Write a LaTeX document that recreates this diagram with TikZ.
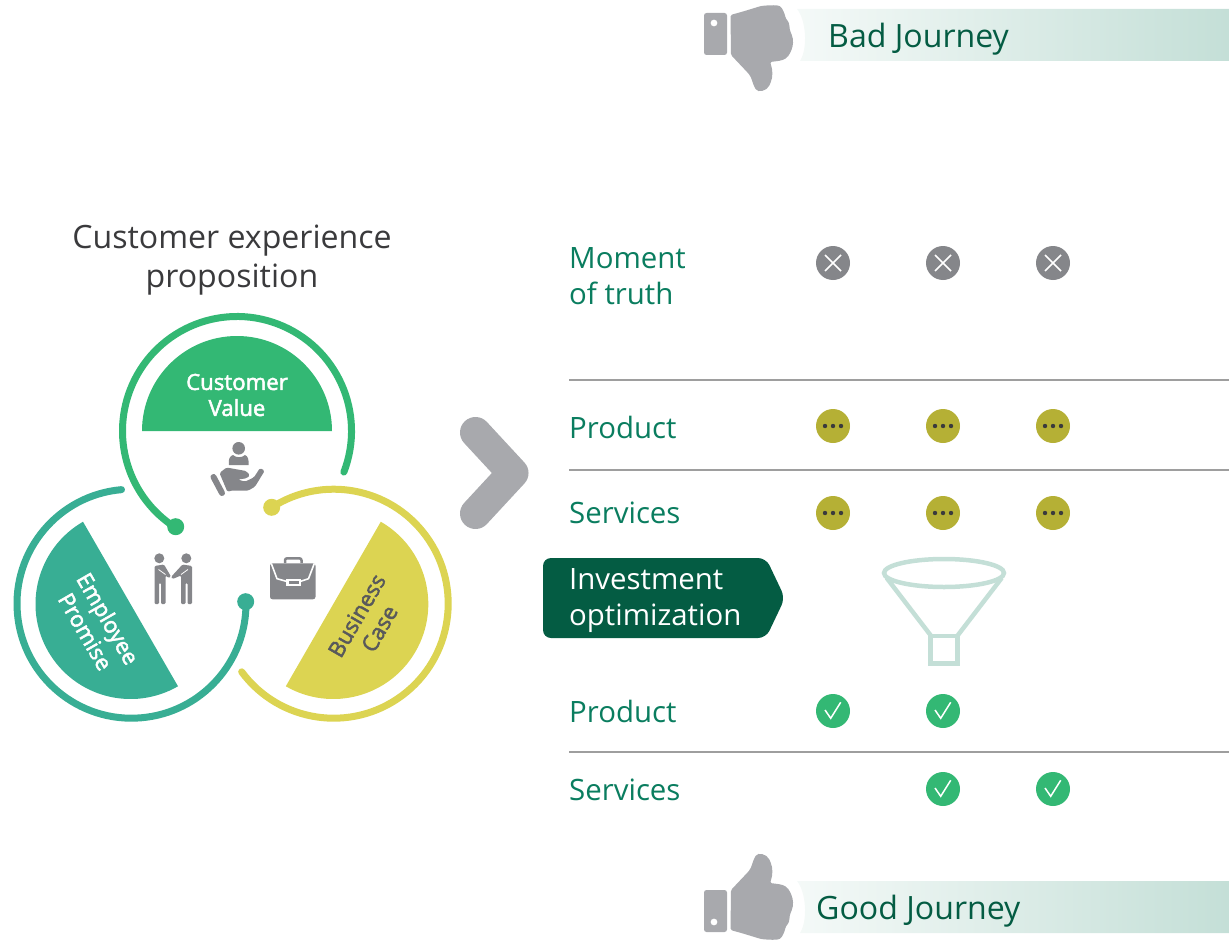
\documentclass[tikz,border=0pt]{standalone}
\usepackage{fontspec}
\setmainfont{Open Sans}
\newfontfamily\semibold[FakeBold=2.2]{Open Sans}
\definecolor{cvgreen}{HTML}{33B874}
\definecolor{epteal}{HTML}{38AE94}
\definecolor{bcyellow}{HTML}{DCD452}
\definecolor{olive2}{HTML}{B5B035}
\definecolor{icongrey}{HTML}{85868A}
\definecolor{thumbgrey}{HTML}{A8A9AD}
\definecolor{rowgreen}{HTML}{0A7D5F}
\definecolor{deepgreen}{HTML}{045C43}
\definecolor{palegreen}{HTML}{C4DFD7}
\definecolor{titlegrey}{HTML}{3A3A3C}
\definecolor{casegrey}{HTML}{58595B}
\tikzset{
  ring/.style={line width=7pt,line cap=round},
  rowlabel/.style={anchor=west,text=rowgreen,inner sep=0pt,align=left,font=\fontsize{29.4}{36}\selectfont},
  barlabel/.style={anchor=west,text=deepgreen,inner sep=0pt,font=\fontsize{32.1}{38}\selectfont},
  disclabel/.style={align=center,inner sep=0pt,font=\semibold\fontsize{22.2}{26}\selectfont},
  rule/.style={draw=black!38,line width=1.2pt},
  funnelline/.style={draw=palegreen,line width=4.5pt},
  badmark/.pic={\fill[icongrey] (0,0) circle (17pt);
    \draw[white,line width=1.6pt] (-8,-8) -- (8,8) (-8,8) -- (8,-8);},
  waitmark/.pic={\fill[olive2] (0,0) circle (17pt);
    \fill[titlegrey] (-8,0) circle (2.2pt) (0,0) circle (2.2pt) (8,0) circle (2.2pt);},
  okmark/.pic={\fill[cvgreen] (0,0) circle (17pt);
    \draw[white,line width=1.5pt] (-8,-1) -- (-2.3,7.3) -- (7.7,-8.7);},
}
\newcommand\thumbicon{%
  \fill[thumbgrey,rounded corners=2.5pt,even odd rule] (704,13) rectangle (727,55) (717.5,23) arc[start angle=0,end angle=360,radius=3.5pt];
  \fill[thumbgrey,rounded corners=1.5pt] (730.5,15) -- (743,11.5) -- (761,6)
    .. controls (770,5) and (778,5) .. (781,7) .. controls (785,13) and (785,17) .. (787,20)
    .. controls (790,24) and (789,28) .. (791,33) .. controls (794,40) and (793,46) .. (791,51)
    .. controls (788,58) and (784,60) .. (778,61) -- (770,62)
    .. controls (773,70) and (773,77) .. (770,84) .. controls (767,91) and (758,93) .. (755,88)
    .. controls (752,82) and (752,78) .. (748,73) -- (731,55) -- cycle;
}
\begin{document}
\begin{tikzpicture}[x=1pt,y=-1pt]
\useasboundingbox (0,0) rectangle (1229,942);
% bars
\shade[left color=palegreen!18,right color=palegreen] (797,9) .. controls (806,20) and (808,48) .. (800,61) -- (1229,61) -- (1229,9) -- cycle;
\shade[left color=palegreen!18,right color=palegreen] (797,881) .. controls (806,892) and (808,920) .. (800,933) -- (1229,933) -- (1229,881) -- cycle;
\thumbicon
\begin{scope}[yshift=-945pt,yscale=-1]\thumbicon\end{scope}
\node[barlabel] (bad) at (828,39) {Bad Journey};
\node[barlabel] (good) at (816,911) {Good Journey};
% title
\node[align=center,inner sep=0pt,text=titlegrey,font=\fontsize{32.1}{39}\selectfont] (title) at (232,260) {Customer experience\\proposition};
% half discs
\fill[cvgreen] (142,431) arc[start angle=180,end angle=0,radius=95pt] -- cycle;
\fill[epteal] ([shift={(120:95pt)}]130.5,604) arc[start angle=120,end angle=300,radius=95pt] -- cycle;
\fill[bcyellow] ([shift={(-120:95pt)}]333.3,604) arc[start angle=-120,end angle=60,radius=95pt] -- cycle;
% rings
\draw[cvgreen,ring] ([shift={(-21:114.5pt)}]237,431) arc[start angle=-21,end angle=237.4,radius=114.5pt];
\fill[cvgreen] (175.7,526.7) circle (8.5pt);
\draw[epteal,ring] ([shift={(95:114.5pt)}]131.5,603.7) arc[start angle=95,end angle=361,radius=114.5pt];
\fill[epteal] (245.7,601.7) circle (8.5pt);
\draw[bcyellow,ring] ([shift={(216.5:114.5pt)}]333.7,603.7) arc[start angle=216.5,end angle=482.7,radius=114.5pt];
\fill[bcyellow] (271.7,507.3) circle (8.5pt);
% disc labels
\node[disclabel,text=white] (cv) at (237,395) {Customer\\Value};
\node[disclabel,text=white,rotate=-60] (ep) at (97,625) {Employee\\Promise};
\node[disclabel,text=casegrey,rotate=60] (bc) at (368,622) {Business\\Case};
% hand icon
\fill[icongrey] (238.7,448.3) circle (6.3pt);
\fill[icongrey] (229,465) .. controls (228,459) and (230,456) .. (233,455) .. controls (236,458) and (242,458) .. (245,455) .. controls (248,456) and (249,460) .. (248.5,465) -- cycle;
\draw[icongrey,line width=6pt,line cap=round] (213.5,477) -- (222,493);
\fill[icongrey,rounded corners=1.5pt] (219.5,473) -- (226.5,467.5) -- (246,471) -- (250,475) -- (246.7,478.3) -- (238,479.5) -- (245,481.7) -- (254,477.3) -- (260,468) -- (264.7,470.7) -- (255,486.7) -- (248,490.7) -- (230,490.7) -- (227.5,492) -- cycle;
% handshake icon
\fill[icongrey] (159.3,558.3) circle (5pt) (186.3,558.3) circle (5pt);
\fill[icongrey,rounded corners=1.2pt] (154.5,566) -- (164,564.5) -- (171,576.5) -- (169,578) -- (165.5,575.5) -- (165.5,604) -- (161,604) -- (161,583) -- (159,583) -- (159,604) -- (154.5,604) -- cycle;
\fill[icongrey,rounded corners=1.2pt] (192,566) -- (182.5,564.5) -- (171,577) -- (172.5,579) -- (181,575.5) -- (181,604) -- (185.5,604) -- (185.5,583) -- (187.5,583) -- (187.5,604) -- (192,604) -- cycle;
\draw[white,line width=.8pt] (158.5,569.5) -- (165.5,574.5) (188,569.5) -- (181,574.5);
% briefcase icon
\draw[icongrey,line width=2.5pt,rounded corners=2pt] (285,563) -- (285,558.3) -- (301.5,558.3) -- (301.5,563);
\fill[icongrey,rounded corners=2.5pt] (270,563.3) rectangle (315.5,599.3);
\draw[white,line width=1.6pt] (271.3,563.5) -- (277,578.7) -- (287,581.5) (314.3,563.5) -- (308.5,578.7) -- (300,581.5);
\fill[white] (286,578.5) rectangle (301,585.5);
\fill[icongrey] (288.5,580.5) rectangle (298.5,583.5);
% chevron
\coordinate (ch1) at (475.5,432.5);
\coordinate (ch2) at (513,473);
\coordinate (ch3) at (475.5,513.5);
\draw[thumbgrey,line width=31pt,line cap=round,line join=round] (ch1) -- (ch2) -- (ch3);
% rows
\node[rowlabel] (moment) at (569,276) {Moment\\of truth};
\node[rowlabel] (prod1) at (569,427.5) {Product};
\node[rowlabel] (serv1) at (569,513) {Services};
\node[rowlabel] (prod2) at (569,711.5) {Product};
\node[rowlabel] (serv2) at (569,790) {Services};
\coordinate (r1a) at (569,380); \coordinate (r1b) at (1229,380);
\coordinate (r2a) at (569,470); \coordinate (r2b) at (1229,470);
\coordinate (r3a) at (569,752); \coordinate (r3b) at (1229,752);
\draw[rule] (r1a) -- (r1b);
\draw[rule] (r2a) -- (r2b);
\draw[rule] (r3a) -- (r3b);
\foreach \cx in {833,943,1053}{
  \pic at (\cx,263) {badmark};
  \pic at (\cx,426) {waitmark};
  \pic at (\cx,513) {waitmark};
}
\pic at (833,711) {okmark};
\pic at (943,711) {okmark};
\pic at (943,789) {okmark};
\pic at (1053,789) {okmark};
% investment box
\fill[deepgreen,rounded corners=8pt] (543,558) -- (766,558) -- (785,598) -- (766,638) -- (543,638) -- cycle;
\node[rowlabel,text=white] (invest) at (569,601) {Investment\\optimization};
% funnel
\draw[funnelline] (944,573) ellipse [x radius=60pt,y radius=14pt];
\draw[funnelline] (886.7,578) -- (931.7,636.7) (1001.7,578) -- (956.7,636.7);
\draw[funnelline] (930.5,636) rectangle (957.5,663.5);
\end{tikzpicture}
\end{document}
